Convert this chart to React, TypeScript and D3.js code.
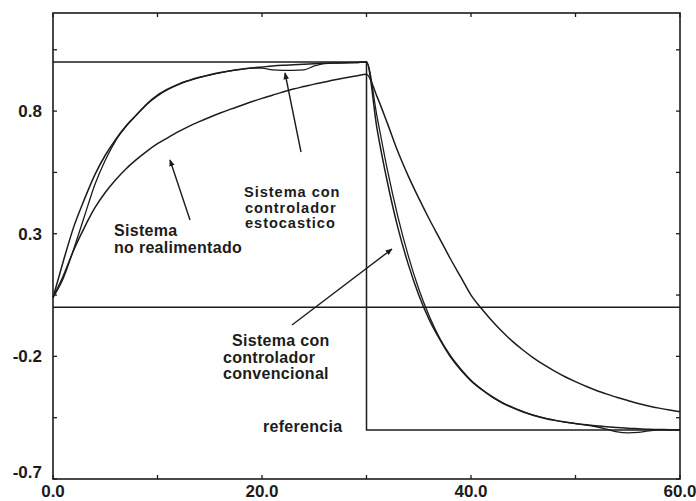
import React from "react";
import * as d3 from "d3";

// Simulated step responses of the plant (time in seconds)
const times: number[] = d3.range(0, 61);

const conventional: number[] = [
  0.04, 0.19, 0.33, 0.44, 0.54, 0.62, 0.685, 0.74, 0.785, 0.83,
  0.865, 0.89, 0.91, 0.925, 0.938, 0.948, 0.957, 0.965, 0.971, 0.976,
  0.98, 0.984, 0.987, 0.989, 0.991, 0.993, 0.995, 0.996, 0.997, 0.998,
  1.0, 0.73, 0.51, 0.325, 0.175, 0.05, -0.05, -0.13, -0.2, -0.255,
  -0.3, -0.335, -0.365, -0.39, -0.41, -0.427, -0.441, -0.452, -0.461, -0.468,
  -0.474, -0.479, -0.483, -0.487, -0.49, -0.493, -0.495, -0.497, -0.498, -0.499,
  -0.5,
];

const stochastic: number[] = [
  0.04, 0.12, 0.24, 0.37, 0.5, 0.6, 0.68, 0.738, 0.785, 0.828,
  0.862, 0.888, 0.908, 0.924, 0.937, 0.947, 0.956, 0.964, 0.97, 0.975,
  0.975, 0.968, 0.966, 0.966, 0.968, 0.984, 0.994, 0.996, 0.997, 0.998,
  1.0, 0.78, 0.56, 0.37, 0.21, 0.075, -0.035, -0.125, -0.195, -0.25,
  -0.297, -0.333, -0.363, -0.388, -0.408, -0.425, -0.44, -0.451, -0.46, -0.468,
  -0.474, -0.48, -0.487, -0.497, -0.508, -0.512, -0.51, -0.504, -0.5, -0.5,
  -0.499,
];

const openLoop: number[] = [
  0.04, 0.13, 0.235, 0.325, 0.405, 0.468, 0.52, 0.565, 0.603, 0.637,
  0.667, 0.692, 0.716, 0.738, 0.757, 0.775, 0.792, 0.808, 0.823, 0.838,
  0.852, 0.865, 0.878, 0.89, 0.9, 0.91, 0.919, 0.928, 0.936, 0.943,
  0.95, 0.86, 0.75, 0.635, 0.535, 0.445, 0.36, 0.28, 0.2, 0.125,
  0.05, -0.005, -0.055, -0.1, -0.14, -0.175, -0.207, -0.235, -0.26, -0.283,
  -0.303, -0.322, -0.339, -0.354, -0.368, -0.38, -0.392, -0.402, -0.411, -0.419,
  -0.426,
];

// Reference signal: step to 1.0, then to -0.5 at t = 30
const refTimes: number[] = [0, 30, 60];
const refLevels: number[] = [1.0, -0.5, -0.5];

const xMajorTicks: number[] = [0, 20, 40, 60];
const xMinorTicks: number[] = [10, 30, 50];
const yMajorTicks: number[] = [0.8, 0.3, -0.2, -0.7];
const yMinorTicks: number[] = [1.05, 0.55, 0.05, -0.45];

const xDomain: [number, number] = [0, 60];
const yDomain: [number, number] = [-0.7, 1.2];

const W = 696;
const H = 501;
const M = { left: 53, right: 16, top: 13, bottom: 22 };

const INK = "#1c1c1c";
const FONT = "'Liberation Sans', Arial, Helvetica, sans-serif";

export default function App() {
  const x = d3.scaleLinear().domain(xDomain).range([M.left, W - M.right]);
  const y = d3.scaleLinear().domain(yDomain).range([H - M.bottom, M.top]);

  const line = d3
    .line<[number, number]>()
    .x((d) => x(d[0]))
    .y((d) => y(d[1]))
    .curve(d3.curveMonotoneX);

  const stepLine = d3
    .line<[number, number]>()
    .x((d) => x(d[0]))
    .y((d) => y(d[1]))
    .curve(d3.curveStepAfter);

  const pts = (vals: number[]) => times.map((t, i) => [t, vals[i]] as [number, number]);
  const refPts = refTimes.map((t, i) => [t, refLevels[i]] as [number, number]);

  const x0 = x(xDomain[0]);
  const x1 = x(xDomain[1]);
  const yTop = y(yDomain[1]);
  const yBot = y(yDomain[0]);

  const labelStyle: React.CSSProperties = {
    fontFamily: FONT,
    fontWeight: 700,
    fontSize: 16,
    letterSpacing: 0.3,
    fill: INK,
  };
  const tightLabelStyle: React.CSSProperties = {
    ...labelStyle,
    fontSize: 14.6,
    letterSpacing: 0.95,
  };

  const arrows: { from: [number, number]; to: [number, number] }[] = [
    { from: [301, 152], to: [285, 73] },
    { from: [190, 220], to: [170, 160] },
    { from: [292, 325], to: [392, 249] },
  ];

  return (
    <svg
      width={W}
      height={H}
      viewBox={`0 0 ${W} ${H}`}
      style={{ position: "absolute", left: 0, top: 0, background: "#fff" }}
    >
      <defs>
        <marker
          id="head"
          viewBox="0 0 10 10"
          refX="9"
          refY="5"
          markerWidth="7"
          markerHeight="7"
          orient="auto"
          markerUnits="userSpaceOnUse"
        >
          <path d="M0,1 L10,5 L0,9 Z" fill={INK} />
        </marker>
      </defs>

      {/* zero line */}
      <line x1={x0} x2={x1} y1={y(0)} y2={y(0)} stroke={INK} strokeWidth={1.5} />

      {/* reference */}
      <path d={stepLine(refPts) ?? ""} fill="none" stroke={INK} strokeWidth={1.5} />

      {/* responses */}
      <path d={line(pts(openLoop)) ?? ""} fill="none" stroke={INK} strokeWidth={1.5} />
      <path d={line(pts(conventional)) ?? ""} fill="none" stroke={INK} strokeWidth={1.5} />
      <path d={line(pts(stochastic)) ?? ""} fill="none" stroke={INK} strokeWidth={1.3} />

      {/* frame */}
      <rect
        x={x0}
        y={yTop}
        width={x1 - x0}
        height={yBot - yTop}
        fill="none"
        stroke={INK}
        strokeWidth={1.6}
      />

      {/* ticks, drawn inward on all four sides */}
      {[...xMajorTicks, ...xMinorTicks].map((t) => (
        <g key={`xt${t}`}>
          <line x1={x(t)} x2={x(t)} y1={yBot} y2={yBot - 4} stroke={INK} strokeWidth={1.3} />
          <line x1={x(t)} x2={x(t)} y1={yTop} y2={yTop + 4} stroke={INK} strokeWidth={1.3} />
        </g>
      ))}
      {[...yMajorTicks, ...yMinorTicks].map((v) => (
        <g key={`yt${v}`}>
          <line x1={x0} x2={x0 + 4} y1={y(v)} y2={y(v)} stroke={INK} strokeWidth={1.3} />
          <line x1={x1} x2={x1 - 4} y1={y(v)} y2={y(v)} stroke={INK} strokeWidth={1.3} />
        </g>
      ))}

      {/* tick labels */}
      {yMajorTicks.map((v) => (
        <text
          key={`yl${v}`}
          x={x0 - 11}
          y={y(v) + (v === yDomain[0] ? -1 : 6)}
          textAnchor="end"
          style={{ fontFamily: FONT, fontWeight: 700, fontSize: 17, fill: INK }}
        >
          {v.toFixed(1)}
        </text>
      ))}
      {xMajorTicks.map((t) => (
        <text
          key={`xl${t}`}
          x={x(t)}
          y={yBot + 18}
          textAnchor="middle"
          style={{ fontFamily: FONT, fontWeight: 700, fontSize: 17, fill: INK }}
        >
          {t.toFixed(1)}
        </text>
      ))}

      {/* annotation arrows */}
      {arrows.map((a, i) => (
        <line
          key={`ar${i}`}
          x1={a.from[0]}
          y1={a.from[1]}
          x2={a.to[0]}
          y2={a.to[1]}
          stroke={INK}
          strokeWidth={1.4}
          markerEnd="url(#head)"
        />
      ))}

      {/* annotations */}
      <text style={tightLabelStyle}>
        <tspan x={244} y={197}>Sistema con</tspan>
        <tspan x={245} y={212.5}>controlador</tspan>
        <tspan x={245} y={228}>estocastico</tspan>
      </text>
      <text style={labelStyle}>
        <tspan x={114} y={236}>Sistema</tspan>
        <tspan x={114} y={253}>no realimentado</tspan>
      </text>
      <text style={labelStyle}>
        <tspan x={232} y={346}>Sistema con</tspan>
        <tspan x={223} y={362.5}>controlador</tspan>
        <tspan x={223} y={379}>convencional</tspan>
      </text>
      <text style={labelStyle} x={263} y={432}>
        referencia
      </text>
    </svg>
  );
}
